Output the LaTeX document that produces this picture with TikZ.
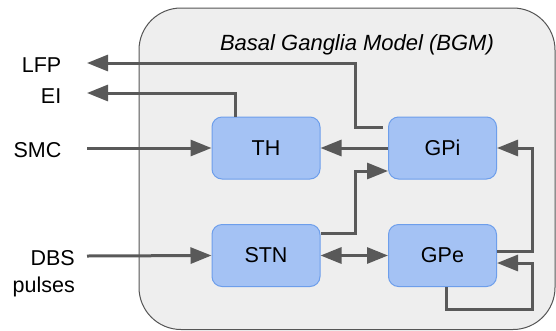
\documentclass[tikz,border=0pt]{standalone}
\usepackage{fontspec}
\setmainfont{Liberation Sans}
\usetikzlibrary{arrows.meta,calc}
\definecolor{linegray}{HTML}{595959}
\definecolor{boxblue}{HTML}{A4C2F4}
\definecolor{boxborder}{HTML}{6D9EEB}
\definecolor{outerfill}{HTML}{EEEEEE}
\definecolor{outerborder}{HTML}{555555}
\tikzset{
  block/.style={draw=boxborder, fill=boxblue, line width=1pt, rounded corners=10pt,
    minimum width=108pt, minimum height=62pt, inner sep=0pt, font=\fontsize{21.5}{25}\selectfont},
  lbl/.style={inner sep=0pt, anchor=base east, font=\fontsize{21.5}{27}\selectfont, align=right},
  conn/.style={draw=linegray, line width=3pt},
  arr/.style={conn, -{Triangle[length=21pt,width=16pt]}},
  darr/.style={conn, {Triangle[length=21pt,width=16pt]}-{Triangle[length=21pt,width=16pt]}},
}
\begin{document}
\begin{tikzpicture}[x=1pt,y=-1pt]
\useasboundingbox (0,0) rectangle (556,330);
\draw[draw=outerborder, fill=outerfill, line width=1pt, rounded corners=42pt] (139,8) rectangle (555,329.5);
\node[inner sep=0pt, anchor=base, font=\itshape\fontsize{22}{26}\selectfont] (title) at (357,50) {Basal Ganglia Model (BGM)};

\node[block] (TH) at (266,148) {TH};
\node[block] (GPi) at (442.5,148) {GPi};
\node[block] (STN) at (266,255.5) {STN};
\node[block] (GPe) at (442.5,255.5) {GPe};

\node[lbl] (lfp) at (61.5,72) {LFP};
\node[lbl] (ei) at (61.5,103) {EI};
\node[lbl] (smc) at (61.5,157.5) {SMC};
\node[lbl] (dbs) at (75,292) {DBS\\pulses};

\coordinate (lfpend) at (87,63);
\coordinate (eiend) at (87,93);
\coordinate (smcstart) at (87,148);
\coordinate (dbsstart) at (87,256);

% outputs
\draw[arr] ($(GPi.west)+(-5,-21)$) -| (355,63) -- (lfpend);
\draw[arr] ($(TH.north west)+(24,0)$) |- (eiend);
% inputs
\draw[arr] (smcstart) -- (TH.west);
\draw[arr] (dbsstart) -- (STN.west);
% internal
\draw[arr] (GPi.west) -- (TH.east);
\draw[arr] ($(STN.east)+(0,-22)$) -| (355,171) -- ($(GPi.west)+(0,23)$);
\draw[darr] (STN.east) -- (GPe.west);
\draw[arr] ($(GPe.east)+(0,-4)$) -| (532,148) -- (GPi.east);
\draw[arr] ($(GPe.south)+(3.5,0)$) |- (532,309) |- ($(GPe.east)+(0,7.5)$);
\end{tikzpicture}
\end{document}
